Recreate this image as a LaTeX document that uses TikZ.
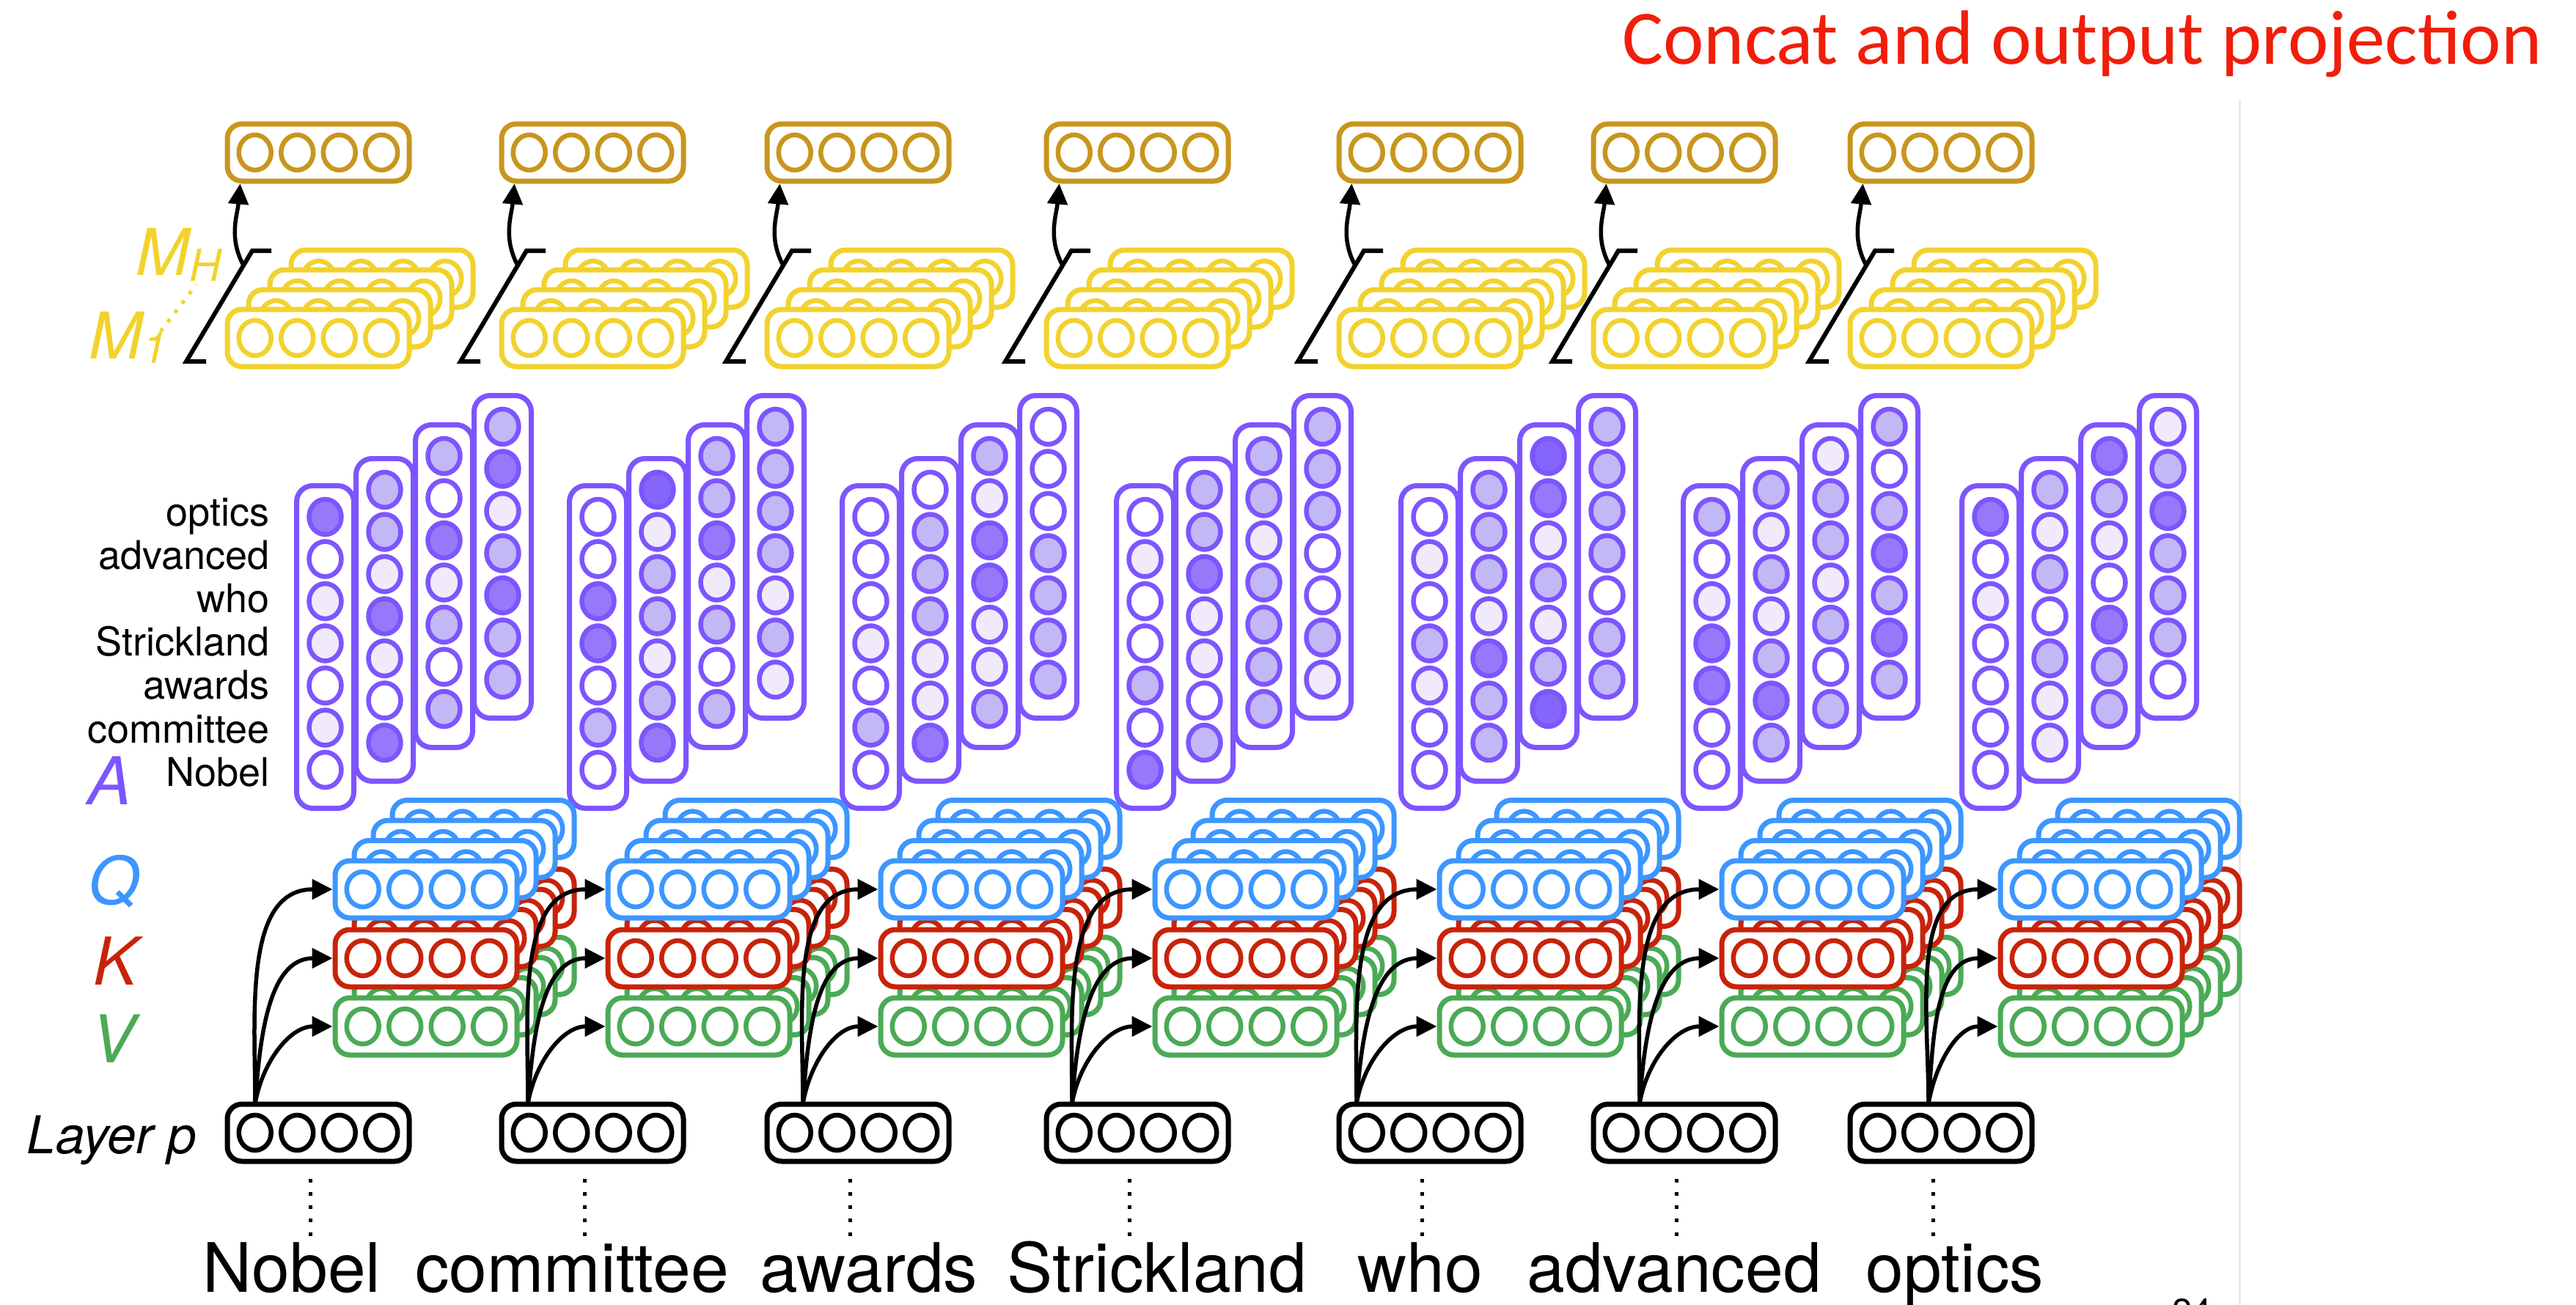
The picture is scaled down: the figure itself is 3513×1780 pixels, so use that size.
\documentclass[tikz,border=0pt]{standalone}
\usepackage{fontspec}
\setmainfont{TeX Gyre Heros}
\newfontfamily\slidefont{Carlito}
\usetikzlibrary{arrows.meta}

\definecolor{attnpurple}{RGB}{125,85,255}
\definecolor{qblue}{RGB}{60,150,255}
\definecolor{kred}{RGB}{200,35,10}
\definecolor{vgreen}{RGB}{75,170,85}
\definecolor{headyellow}{RGB}{242,210,45}
\definecolor{outgold}{RGB}{200,150,30}
\definecolor{titlered}{RGB}{240,30,10}
% attention weight shades, light to dark
\definecolor{wt0}{RGB}{255,255,255}
\definecolor{wt1}{RGB}{240,234,250}
\definecolor{wt2}{RGB}{194,184,245}
\definecolor{wt3}{RGB}{150,120,250}
\definecolor{wt4}{RGB}{133,102,250}

\tikzset{
  vecbox/.style={draw=#1, line width=7pt, fill=white, rounded corners=20pt,
    minimum width=248pt, minimum height=78pt, inner sep=0pt},
  attnbox/.style={draw=attnpurple, line width=7pt, fill=white, rounded corners=22pt,
    minimum width=78pt, minimum height=440pt, inner sep=0pt, anchor=north west},
  feed/.style={line width=5.5pt, -{Triangle[length=28pt,width=27pt]}},
  wordlink/.style={line width=5pt, dash pattern=on 5pt off 13.25pt},
  headdots/.style={headyellow, line width=5pt, dash pattern=on 5pt off 11pt},
}

% a vector: rounded box holding four units
\newcommand{\unitrow}[3]{% name, centre, colour
  \node[vecbox=#3] (#1) at (#2) {};
  \foreach \k in {0,...,3}
    \draw[#3, line width=6.5pt] ([xshift={-86.25+57.5*\k}]#1.center) ellipse (22pt and 24pt);
}

% one attention head: column of seven weights
\newcommand{\attncolumn}[3]{% name, north west corner, weights top to bottom
  \node[attnbox] (#1) at (#2) {};
  \foreach \w [count=\i from 0] in {#3}
    \draw[attnpurple, line width=6.5pt, fill=wt\w] ([yshift={-46-57.5*\i}]#1.north) ellipse (22pt and 24pt);
}

\newcommand{\attngroup}[6]{% word, left edge, four heads
  \attncolumn{att#1-1}{#2+3,-659}{#3}
  \attncolumn{att#1-2}{#2+84,-622}{#4}
  \attncolumn{att#1-3}{#2+165,-576}{#5}
  \attncolumn{att#1-4}{#2+245,-536}{#6}
}

\begin{document}
\begin{tikzpicture}[x=1pt, y=1pt]
\useasboundingbox (0,0) rectangle (3513,-1780);

\node[anchor=base east, text=titlered, font=\slidefont\fontsize{105}{105}\selectfont] (title) at (3470,-87) {Concat and output projection};
\draw[black!9, line width=3pt] (3054,-137) -- (3054,-1780);
\node[anchor=base, font=\fontsize{48}{48}\selectfont] (pagenum) at (2989,-1805) {24};

% attention weights per word
\attngroup{1}{398}{3,0,1,1,0,1,0}{2,2,1,3,1,0,3}{2,0,3,1,2,0,2}{2,3,1,2,3,2,2}
\attngroup{2}{770}{0,0,3,3,0,2,0}{4,1,2,2,1,2,3}{2,2,3,1,2,0,2}{2,2,2,2,1,2,1}
\attngroup{3}{1142}{0,0,0,1,0,2,0}{0,2,2,2,1,1,3}{2,1,3,3,1,1,2}{0,0,0,2,2,2,2}
\attngroup{4}{1516}{0,1,0,0,2,0,3}{2,2,3,1,1,0,2}{2,2,1,2,2,2,2}{2,2,2,0,0,2,1}
\attngroup{5}{1904}{0,1,0,2,1,0,0}{2,2,2,1,3,2,2}{4,3,1,2,1,2,4}{2,2,2,2,0,2,2}
\attngroup{6}{2289}{2,0,1,3,3,0,0}{2,1,2,1,2,3,2}{1,2,2,1,2,0,2}{2,0,2,3,2,3,2}
\attngroup{7}{2669}{3,0,1,0,0,0,0}{2,1,2,0,2,1,1}{3,2,1,0,3,2,2}{1,2,3,2,2,2,0}

% heads (back to front), outputs and layer p
\foreach \g/\b/\a in {1/308/457, 2/682/829, 3/1044/1201, 4/1425/1575,
                      5/1824/1963, 6/2171/2348, 7/2521/2728} {
  \foreach \h in {3,2,1,0} {
    \unitrow{v\g-\h}{\a+124+26*\h,-1400+27.5*\h}{vgreen}
    \unitrow{k\g-\h}{\a+124+26*\h,-1307+27.5*\h}{kred}
    \unitrow{q\g-\h}{\a+124+26*\h,-1213+27.5*\h}{qblue}
    \unitrow{m\g-\h}{\b+126+29*\h,-461+27*\h}{headyellow}
  }
  \unitrow{o\g}{\b+126,-208}{outgold}
  \unitrow{lp\g}{\b+126,-1545}{black}
}

% connectors
\foreach \g/\b/\s in {1/308/348, 2/682/720, 3/1044/1095, 4/1425/1462,
                      5/1824/1850, 6/2171/2236, 7/2521/2630} {
  \coordinate (src\g) at (\s,-1505);
  \draw[feed] (src\g) to[out=90,in=180] (q\g-0.west);
  \draw[feed] (src\g) to[out=86,in=180] (k\g-0.west);
  \draw[feed] (src\g) to[out=80,in=180] (v\g-0.west);
  % concat bracket
  \draw[line width=6pt] (\b-27,-493) -- (\b-54,-493) -- (\b+36,-342) -- (\b+62,-342);
  \coordinate (cat\g) at (\b+24,-362);
  \draw[feed] (cat\g) to[out=118,in=-95] ([xshift=21pt]o\g.south west);
  \draw[wordlink] ([xshift=-11pt]lp\g.south) ++(0,-20) -- ++(0,-78);
}

% words
\foreach \w/\x [count=\i] in {Nobel/398, committee/780, awards/1185, Strickland/1578,
                              who/1937, advanced/2283, optics/2666}
  \node[anchor=base, font=\fontsize{93}{93}\selectfont] (w\i) at (\x,-1762) {\w};

% row labels of the attention columns
\foreach \w [count=\i from 0] in {optics,advanced,who,Strickland,awards,committee,Nobel}
  \node[anchor=base east, font=\fontsize{54}{54}\selectfont] (row\i) at (371,-717-59.2*\i) {\w};

\node[anchor=base, text=attnpurple, font=\fontsize{90}{90}\selectfont\itshape] (alab) at (150,-1097) {A};
\node[anchor=base, text=qblue, font=\fontsize{90}{90}\selectfont\itshape] (qlab) at (156,-1233) {Q};
\node[anchor=base, text=kred, font=\fontsize{90}{90}\selectfont\itshape] (klab) at (158,-1343) {K};
\node[anchor=base, text=vgreen, font=\fontsize{90}{90}\selectfont\itshape] (vlab) at (155,-1449) {V};
\node[anchor=base east, font=\fontsize{71}{71}\selectfont\itshape] (layerp) at (272,-1573) {Layer p};

\node[anchor=base west, inner sep=0pt, text=headyellow, font=\fontsize{88}{88}\selectfont\itshape] (mh) at (185,-375)
  {M\raisebox{-8pt}{\fontsize{60}{60}\selectfont H}};
\node[anchor=base west, inner sep=0pt, text=headyellow, font=\fontsize{88}{88}\selectfont\itshape] (m1) at (121,-489)
  {M\raisebox{-6pt}{\fontsize{60}{60}\selectfont 1}};
\coordinate (hd1) at (219,-452);
\coordinate (hd2) at (268,-388);
\draw[headdots] (hd1) -- (hd2);
\end{tikzpicture}
\end{document}
